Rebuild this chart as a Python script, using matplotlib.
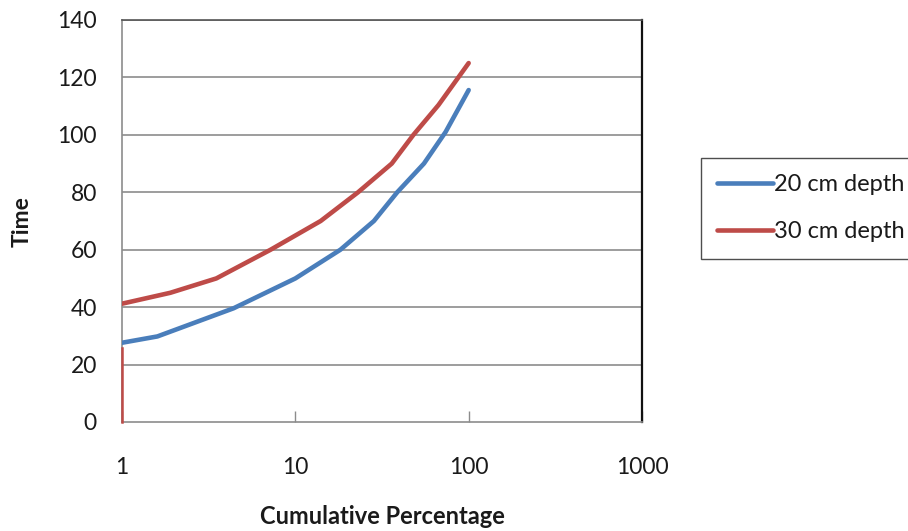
import matplotlib
matplotlib.use("Agg")
import matplotlib.pyplot as plt
from matplotlib.ticker import FixedLocator, FixedFormatter

plt.rcParams['font.family'] = ['Lato', 'DejaVu Sans']

# Cumulative percentage (log axis) vs time for the two depths
pct_20cm = [1.0, 1.6, 4.4, 10.0, 18.2, 28.4, 38.7, 55.2, 73.6, 100.0]
time_20cm = [27.6, 29.8, 39.6, 50.0, 60.0, 70.0, 80.0, 90.0, 101.0, 115.6]

pct_30cm = [1.0, 1.9, 3.5, 7.2, 14.0, 23.0, 36.0, 48.0, 67.0, 100.0]
time_30cm = [41.2, 45.0, 50.0, 60.0, 70.0, 80.0, 90.0, 100.0, 110.4, 125.0]

# Short red marker running up the y axis at x = 1
marker_pct = [1.0, 1.0]
marker_time = [0.0, 25.7]

x_ticks = [1, 10, 100, 1000]
x_tick_labels = ['1', '10', '100', '1000']
y_ticks = [0, 20, 40, 60, 80, 100, 120, 140]
y_tick_labels = ['0', '20', '40', '60', '80', '100', '120', '140']

blue = '#4A7EBB'
red = '#BE4B48'
text_color = '#1a1a1a'
fs = 16.5

fig = plt.figure(figsize=(9.08, 5.31), dpi=100)
ax = fig.add_axes([122 / 908, 1 - 422 / 531, (642 - 122) / 908, (422 - 20) / 531])

ax.set_xscale('log')
ax.set_xlim(1, 1000)
ax.set_ylim(0, 140)

for y in y_ticks[1:]:
    ax.axhline(y, color='#8C8C8C', lw=1.2, zorder=1)

ax.plot(pct_20cm, time_20cm, color=blue, lw=3.3, solid_capstyle='round',
        solid_joinstyle='round', label='20 cm depth', zorder=3)
ax.plot(pct_30cm, time_30cm, color=red, lw=3.3, solid_capstyle='round',
        solid_joinstyle='round', label='30 cm depth', zorder=3)
ax.plot(marker_pct, marker_time, color=red, lw=1.8, zorder=4, clip_on=False)

for side in ('left', 'bottom'):
    ax.spines[side].set_color('#8C8C8C')
    ax.spines[side].set_linewidth(1.2)
ax.spines['top'].set_color('#555555')
ax.spines['top'].set_linewidth(1.2)
ax.spines['right'].set_color('#111111')
ax.spines['right'].set_linewidth(1.6)

ax.xaxis.set_major_locator(FixedLocator(x_ticks))
ax.xaxis.set_major_formatter(FixedFormatter(x_tick_labels))
ax.xaxis.set_minor_locator(FixedLocator([]))
ax.yaxis.set_major_locator(FixedLocator(y_ticks))
ax.yaxis.set_major_formatter(FixedFormatter(y_tick_labels))

ax.tick_params(axis='x', direction='in', length=8, width=1, color='#8C8C8C',
               pad=25, labelsize=fs, labelcolor=text_color)
ax.tick_params(axis='y', length=0, pad=18, labelsize=fs, labelcolor=text_color)

fig.text(22 / 908, 1 - 222 / 531, 'Time', rotation=90, ha='center', va='center',
         fontsize=fs, fontweight='bold', color=text_color)
fig.text(382 / 908, 1 - 517 / 531, 'Cumulative Percentage', ha='center', va='center',
         fontsize=fs + 0.5, fontweight='bold', color=text_color)

leg = fig.legend(loc='upper left', bbox_to_anchor=(701 / 908, 1 - 158 / 531),
                 frameon=True, fancybox=False, edgecolor='#222222',
                 fontsize=fs + 0.5, handlelength=2.35, handletextpad=0.08,
                 labelspacing=1.12, borderpad=0.68, borderaxespad=0)
leg.get_frame().set_linewidth(1.0)
for t in leg.get_texts():
    t.set_color(text_color)

fig.savefig('out.png', dpi=100)
